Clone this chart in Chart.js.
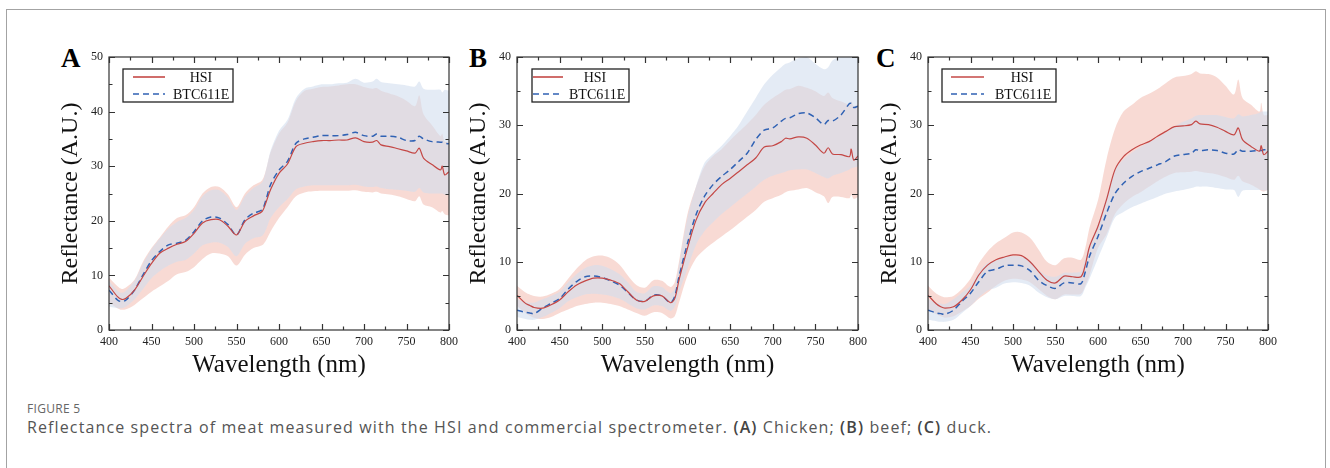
<!DOCTYPE html>
<html>
<head>
<meta charset="utf-8">
<script src="https://cdn.jsdelivr.net/npm/chart.js@4.4.1/dist/chart.umd.min.js"></script>
<style>
body { margin:0; background:#fff; width:1330px; height:468px; overflow:hidden; position:relative; font-family:'Open Sans', sans-serif; }
#frame { position:absolute; left:6px; top:9px; width:1318px; height:480px; border:1px solid #a3a3a3; }
.panel { position:absolute; top:40px; height:350px; }
.letter { position:absolute; top:45px; font:bold 27px 'Liberation Serif', serif; line-height:27px; color:#000; }
#fig { position:absolute; left:27px; top:400px; font-size:12px; color:#666; letter-spacing:0.3px; }
#cap { position:absolute; left:27px; top:416px; font-size:16px; color:#555; letter-spacing:1.12px; white-space:nowrap; }
#cap b { color:#444; font-weight:600; }
</style>
</head>
<body>
<div id="frame"></div>
<div class="letter" style="left:61px">A</div>
<div class="letter" style="left:469px">B</div>
<div class="letter" style="left:876px">C</div>
<div class="panel" style="left:39px;width:422px"><canvas id="chartA"></canvas></div>
<div class="panel" style="left:447px;width:423px"><canvas id="chartB"></canvas></div>
<div class="panel" style="left:858px;width:422px"><canvas id="chartC"></canvas></div>
<div id="fig">FIGURE 5</div>
<div id="cap">Reflectance spectra of meat measured with the HSI and commercial spectrometer. <b>(A)</b> Chicken; <b>(B)</b> beef; <b>(C)</b> duck.</div>
<script>
// wavelength grid (nm)
var wl = [400,410,415,420,430,440,450,460,470,480,490,500,510,520,530,540,550,560,570,580,585,590,600,610,620,630,640,650,660,670,680,690,700,710,715,720,730,740,750,760,765,770,780,790,792,795,800];

// A - chicken
var hsiA   = [8.1,6.1,5.6,5.8,7.3,9.8,12.2,14.1,15.0,15.7,16.2,17.7,19.6,20.2,20.2,19.0,17.4,19.9,20.9,21.7,23.5,25.7,28.7,30.4,33.6,34.2,34.5,34.7,34.7,34.8,34.8,35.2,34.5,34.4,34.7,33.9,33.6,33.2,32.8,32.4,33.3,31.5,30.3,29.3,30.0,28.4,29.0];
var hsiUpA = [9.6,8.0,7.5,7.8,9.2,12.5,15.0,17.0,19.0,20.5,21.0,22.5,25.0,26.2,26.2,24.8,22.5,25.0,26.5,27.4,29.5,32.5,36.0,38.0,42.0,43.8,44.2,44.5,44.6,44.8,45.0,45.0,44.5,44.2,44.3,43.8,43.3,42.8,42.0,41.0,43.0,39.5,37.5,35.5,36.0,34.5,34.5];
var hsiLoA = [5.0,4.0,3.7,3.8,4.6,5.8,7.0,8.0,9.0,10.2,10.6,11.5,13.0,14.0,14.0,13.5,11.8,13.8,15.0,15.5,16.5,18.0,20.5,22.5,24.5,25.2,25.4,25.5,25.5,25.5,25.5,25.6,25.3,25.2,25.3,25.0,24.8,24.5,24.0,23.6,24.5,23.0,22.5,21.5,21.8,21.2,21.0];
var btcA   = [7.3,5.5,5.2,5.5,7.3,10.1,12.7,14.4,15.6,15.9,16.4,18.0,20.0,20.7,20.5,19.3,17.4,20.2,21.4,22.0,24.0,26.6,29.3,30.9,34.2,35.0,35.3,35.6,35.6,35.6,35.8,36.2,35.6,35.5,35.9,35.5,35.5,35.3,34.7,34.7,35.5,35.0,34.5,34.4,34.4,34.2,34.1];
var btcUpA = [9.0,7.2,6.8,7.2,9.0,12.2,14.8,16.8,18.6,19.8,20.5,22.0,24.5,25.6,25.6,24.2,22.0,24.5,26.0,27.0,29.5,32.8,36.5,38.5,42.5,44.2,44.6,45.0,45.0,45.2,45.3,46.0,45.3,45.5,46.0,45.4,45.2,45.0,44.8,44.6,45.5,44.2,44.0,44.0,43.5,44.0,43.8];
var btcLoA = [4.3,4.0,4.0,4.3,5.6,7.5,9.5,10.8,11.8,12.5,12.8,14.0,15.5,16.0,16.0,15.2,13.5,15.8,16.8,17.2,18.5,20.5,22.5,24.0,25.8,26.3,26.5,26.5,26.5,26.5,26.5,26.6,26.3,26.2,26.3,26.0,25.8,25.7,25.5,25.3,26.0,25.2,25.0,25.0,25.0,24.8,24.8];

// B - beef
var hsiB   = [5.1,3.9,3.6,3.3,3.2,3.7,4.4,5.6,6.6,7.2,7.6,7.6,7.3,6.8,5.6,4.4,4.2,5.0,5.0,4.0,4.6,7.3,12.0,16.1,18.6,20.0,21.3,22.2,23.2,24.2,25.2,26.8,27.0,27.6,28.1,28.0,28.3,28.1,27.1,25.9,26.7,25.8,25.7,25.4,26.5,24.9,25.5];
var hsiUpB = [6.5,5.5,5.2,5.0,4.9,5.3,6.0,7.5,9.0,10.2,10.8,10.9,10.5,9.6,8.0,6.6,6.2,7.3,7.2,6.3,7.0,10.0,17.0,21.0,24.0,25.5,26.5,27.8,29.0,30.2,31.5,33.0,34.0,34.8,35.2,35.3,35.8,35.5,35.0,34.3,34.8,34.0,33.5,33.0,33.5,32.8,33.0];
var hsiLoB = [3.5,2.5,2.1,1.8,1.6,1.9,2.5,3.0,3.5,3.8,4.0,4.0,3.8,3.5,3.0,2.5,2.1,2.6,2.5,1.7,2.0,4.0,8.0,10.5,11.8,12.8,13.7,14.6,15.6,16.6,17.6,18.8,19.3,19.8,20.2,20.4,20.6,20.8,20.2,19.6,18.6,19.5,19.5,19.3,19.8,19.2,19.5];
var btcB   = [2.9,2.6,2.5,2.4,3.2,3.9,4.6,6.0,7.1,7.8,7.9,7.7,7.2,6.6,5.5,4.4,4.2,5.1,5.0,4.0,4.9,7.8,12.7,16.9,19.6,21.3,22.5,23.5,24.7,25.9,27.9,29.3,29.6,30.6,31.0,31.1,31.7,31.8,31.1,30.1,30.7,30.6,31.5,33.2,33.2,32.6,32.8];
var btcUpB = [4.5,4.1,4.0,4.0,4.5,5.0,5.6,7.0,8.2,9.1,9.5,9.4,8.9,8.2,7.0,5.6,5.4,6.4,6.3,5.4,6.2,9.5,16.5,21.0,24.5,25.8,27.0,28.4,30.0,32.0,34.0,36.0,37.4,38.5,39.0,39.2,39.8,40.0,39.0,38.2,38.5,39.5,40.0,40.0,40.0,40.0,40.0];
var btcLoB = [1.9,1.6,1.5,1.5,1.9,2.5,3.2,4.2,4.8,5.2,5.3,5.2,5.0,4.6,3.9,3.2,3.0,3.6,3.5,2.8,3.4,5.5,9.0,12.5,14.5,15.8,17.0,18.0,19.0,20.0,21.0,22.0,22.6,23.0,23.2,23.4,23.5,23.5,23.0,22.4,22.2,22.6,23.0,23.5,23.7,23.8,24.0];

// C - duck
var hsiC   = [5.1,3.8,3.4,3.2,3.4,4.4,5.9,8.1,9.5,10.3,10.7,11.0,10.9,10.0,8.6,7.3,6.9,7.9,7.8,7.8,9.5,12.2,15.2,19.1,23.5,25.4,26.4,27.1,27.6,28.4,29.1,29.8,29.9,30.1,30.6,30.2,30.1,29.7,29.1,28.6,29.6,27.9,26.9,26.2,27.0,25.7,26.2];
var hsiUpC = [6.5,5.3,5.0,4.8,5.0,6.0,7.5,9.8,11.5,12.7,13.5,14.3,14.3,13.5,11.8,10.0,9.5,10.5,10.6,10.3,12.0,15.0,19.0,25.0,29.5,32.0,33.0,34.0,34.6,35.3,36.2,37.0,37.2,37.5,37.9,37.6,37.5,37.0,35.8,34.5,36.7,34.0,33.0,32.0,33.3,31.5,31.5];
var hsiLoC = [3.0,2.3,2.0,1.8,2.0,2.7,3.5,4.6,5.5,6.5,7.2,7.5,7.4,7.0,6.0,5.0,4.5,5.2,5.2,5.3,6.5,8.0,12.0,14.0,17.0,18.5,19.5,20.2,21.0,21.8,22.5,23.0,23.1,23.2,23.3,23.2,23.0,22.8,22.4,22.0,22.6,21.8,21.3,20.6,20.4,20.3,20.5];
var btcC   = [2.9,2.5,2.4,2.3,2.9,4.2,5.4,7.1,8.6,8.9,9.4,9.5,9.4,8.7,7.3,6.5,6.1,6.9,6.9,6.8,8.5,10.8,13.7,17.1,20.0,21.5,22.5,23.2,23.7,24.2,24.7,25.5,25.7,25.9,26.4,26.3,26.4,26.3,25.9,25.8,26.4,26.2,26.2,26.3,26.3,26.4,26.4];
var btcUpC = [4.5,4.0,3.9,3.8,4.5,5.5,6.5,8.5,9.8,10.2,10.7,10.8,10.7,10.2,8.8,8.0,7.8,8.4,8.4,8.6,10.5,12.5,15.5,19.5,23.5,25.0,26.0,26.8,27.5,28.2,29.0,29.8,30.5,31.0,31.4,31.5,31.5,31.5,31.2,31.0,31.6,31.3,31.5,31.8,32.0,32.0,32.0];
var btcLoC = [1.5,1.3,1.2,1.2,1.5,2.5,3.5,4.8,5.8,6.2,6.8,7.0,6.9,6.5,5.5,4.8,4.5,5.0,5.0,5.0,6.2,7.5,10.5,13.5,16.5,17.3,18.0,18.5,19.0,19.5,20.0,20.3,20.5,20.8,21.0,21.0,21.0,20.8,20.6,20.5,19.5,20.4,20.5,20.5,20.5,20.4,20.5];

var seriesNames = ['HSI', 'BTC611E'];
var xTitle = 'Wavelength (nm)';
var yTitle = 'Reflectance (A.U.)';

var red = 'rgb(196, 72, 70)';
var blue = 'rgb(48, 98, 180)';
var pinkFill = 'rgba(238, 162, 148, 0.4)';
var blueFill = 'rgba(210, 222, 238, 0.6)';
var serif = "'Liberation Serif', 'Times New Roman', serif";

function pts(arr) {
	return wl.map(function (x, i) { return { x: x, y: arr[i] }; });
}

// frame with inward ticks on all 4 sides
var frameTicks = {
	id: 'frameTicks',
	afterDatasetsDraw: function (chart) {
		var ctx = chart.ctx, a = chart.chartArea, x = chart.scales.x, y = chart.scales.y;
		ctx.save();
		ctx.strokeStyle = '#333';
		ctx.lineWidth = 1.2;
		ctx.strokeRect(a.left, a.top, a.right - a.left, a.bottom - a.top);
		ctx.beginPath();
		for (var v = x.min; v <= x.max; v += 25) {
			var px = Math.round(x.getPixelForValue(v)) + 0.5;
			var len = v % 50 === 0 ? 6 : 3.5;
			ctx.moveTo(px, a.bottom); ctx.lineTo(px, a.bottom - len);
			ctx.moveTo(px, a.top); ctx.lineTo(px, a.top + len);
		}
		for (var w = y.min; w <= y.max; w += 5) {
			var py = Math.round(y.getPixelForValue(w)) + 0.5;
			var l2 = w % 10 === 0 ? 6 : 3.5;
			ctx.moveTo(a.left, py); ctx.lineTo(a.left + l2, py);
			ctx.moveTo(a.right, py); ctx.lineTo(a.right - l2, py);
		}
		ctx.stroke();
		ctx.restore();
	}
};

// boxed legend inside the plot
var boxLegend = {
	id: 'boxLegend',
	afterDraw: function (chart, args, o) {
		var ctx = chart.ctx, a = chart.chartArea;
		var bx = a.left + o.x, by = a.top + 12;
		ctx.save();
		ctx.fillStyle = '#fff';
		ctx.fillRect(bx, by, o.w, 33);
		ctx.strokeStyle = '#222';
		ctx.lineWidth = 1.3;
		ctx.strokeRect(bx, by, o.w, 33);
		ctx.lineWidth = 1.6;
		ctx.strokeStyle = red;
		ctx.beginPath(); ctx.moveTo(a.left + o.l0, a.top + 20); ctx.lineTo(a.left + o.l1, a.top + 20); ctx.stroke();
		ctx.strokeStyle = blue;
		ctx.setLineDash([6, 4]);
		ctx.beginPath(); ctx.moveTo(a.left + o.l0, a.top + 37); ctx.lineTo(a.left + o.l1, a.top + 37); ctx.stroke();
		ctx.setLineDash([]);
		ctx.fillStyle = '#111';
		ctx.font = '14px ' + serif;
		ctx.textBaseline = 'middle';
		ctx.textAlign = 'center';
		ctx.fillText(seriesNames[0], a.left + o.t0, a.top + 21);
		ctx.textAlign = 'left';
		ctx.fillText(seriesNames[1], a.left + o.t1, a.top + 38);
		ctx.restore();
	}
};

function makeChart(id, hsi, hsiUp, hsiLo, btc, btcUp, btcLo, yMax, leg) {
	new Chart(document.getElementById(id), {
		type: 'line',
		data: {
			// drawn last-to-first: pink band, then blue band over it, then the two lines
			datasets: [
				{ label: 'HSI', data: pts(hsi), borderColor: red, borderWidth: 1.2, pointRadius: 0, fill: false, tension: 0.3 },
				{ label: 'BTC611E', data: pts(btc), borderColor: blue, borderWidth: 1.5, borderDash: [6, 4], pointRadius: 0, fill: false, tension: 0.3 },
				{ data: pts(btcLo), borderWidth: 0, pointRadius: 0, fill: false, tension: 0.3 },
				{ data: pts(btcUp), borderWidth: 0, pointRadius: 0, fill: '-1', backgroundColor: blueFill, tension: 0.3 },
				{ data: pts(hsiLo), borderWidth: 0, pointRadius: 0, fill: false, tension: 0.3 },
				{ data: pts(hsiUp), borderWidth: 0, pointRadius: 0, fill: '-1', backgroundColor: pinkFill, tension: 0.3 }
			]
		},
		options: {
			responsive: true,
			maintainAspectRatio: false,
			animation: false,
			layout: { padding: { top: 17, right: 12, left: 0, bottom: 0 } },
			plugins: {
				legend: { display: false },
				tooltip: { enabled: false },
				boxLegend: leg
			},
			scales: {
				x: {
					type: 'linear', min: 400, max: 800,
					grid: { display: false, drawTicks: false },
					border: { display: false },
					ticks: { stepSize: 50, padding: 5, color: '#222', font: { family: serif, size: 12 } },
					title: { display: true, text: xTitle, color: '#111', font: { family: serif, size: 25 }, padding: { top: 0, bottom: 10 } },
					afterFit: function (s) { s.height = 60; s.paddingLeft = 0; s.paddingRight = 0; }
				},
				y: {
					min: 0, max: yMax,
					grid: { display: false, drawTicks: false },
					border: { display: false },
					ticks: { stepSize: 10, padding: 6, color: '#222', font: { family: serif, size: 12 } },
					title: { display: true, text: yTitle, color: '#111', font: { family: serif, size: 24 }, padding: { top: 17, bottom: 0 } },
					afterFit: function (s) { s.width = 70; s.paddingTop = 0; s.paddingBottom = 0; }
				}
			}
		},
		plugins: [frameTicks, boxLegend]
	});
}

makeChart('chartA', hsiA, hsiUpA, hsiLoA, btcA, btcUpA, btcLoA, 50, { x: 14, w: 110, l0: 24, l1: 56, t0: 92, t1: 64 });
makeChart('chartB', hsiB, hsiUpB, hsiLoB, btcB, btcUpB, btcLoB, 40, { x: 15, w: 97, l0: 16, l1: 46, t0: 78, t1: 52 });
makeChart('chartC', hsiC, hsiUpC, hsiLoC, btcC, btcUpC, btcLoC, 40, { x: 14, w: 114, l0: 23, l1: 56, t0: 94, t1: 67 });
</script>
</body>
</html>
